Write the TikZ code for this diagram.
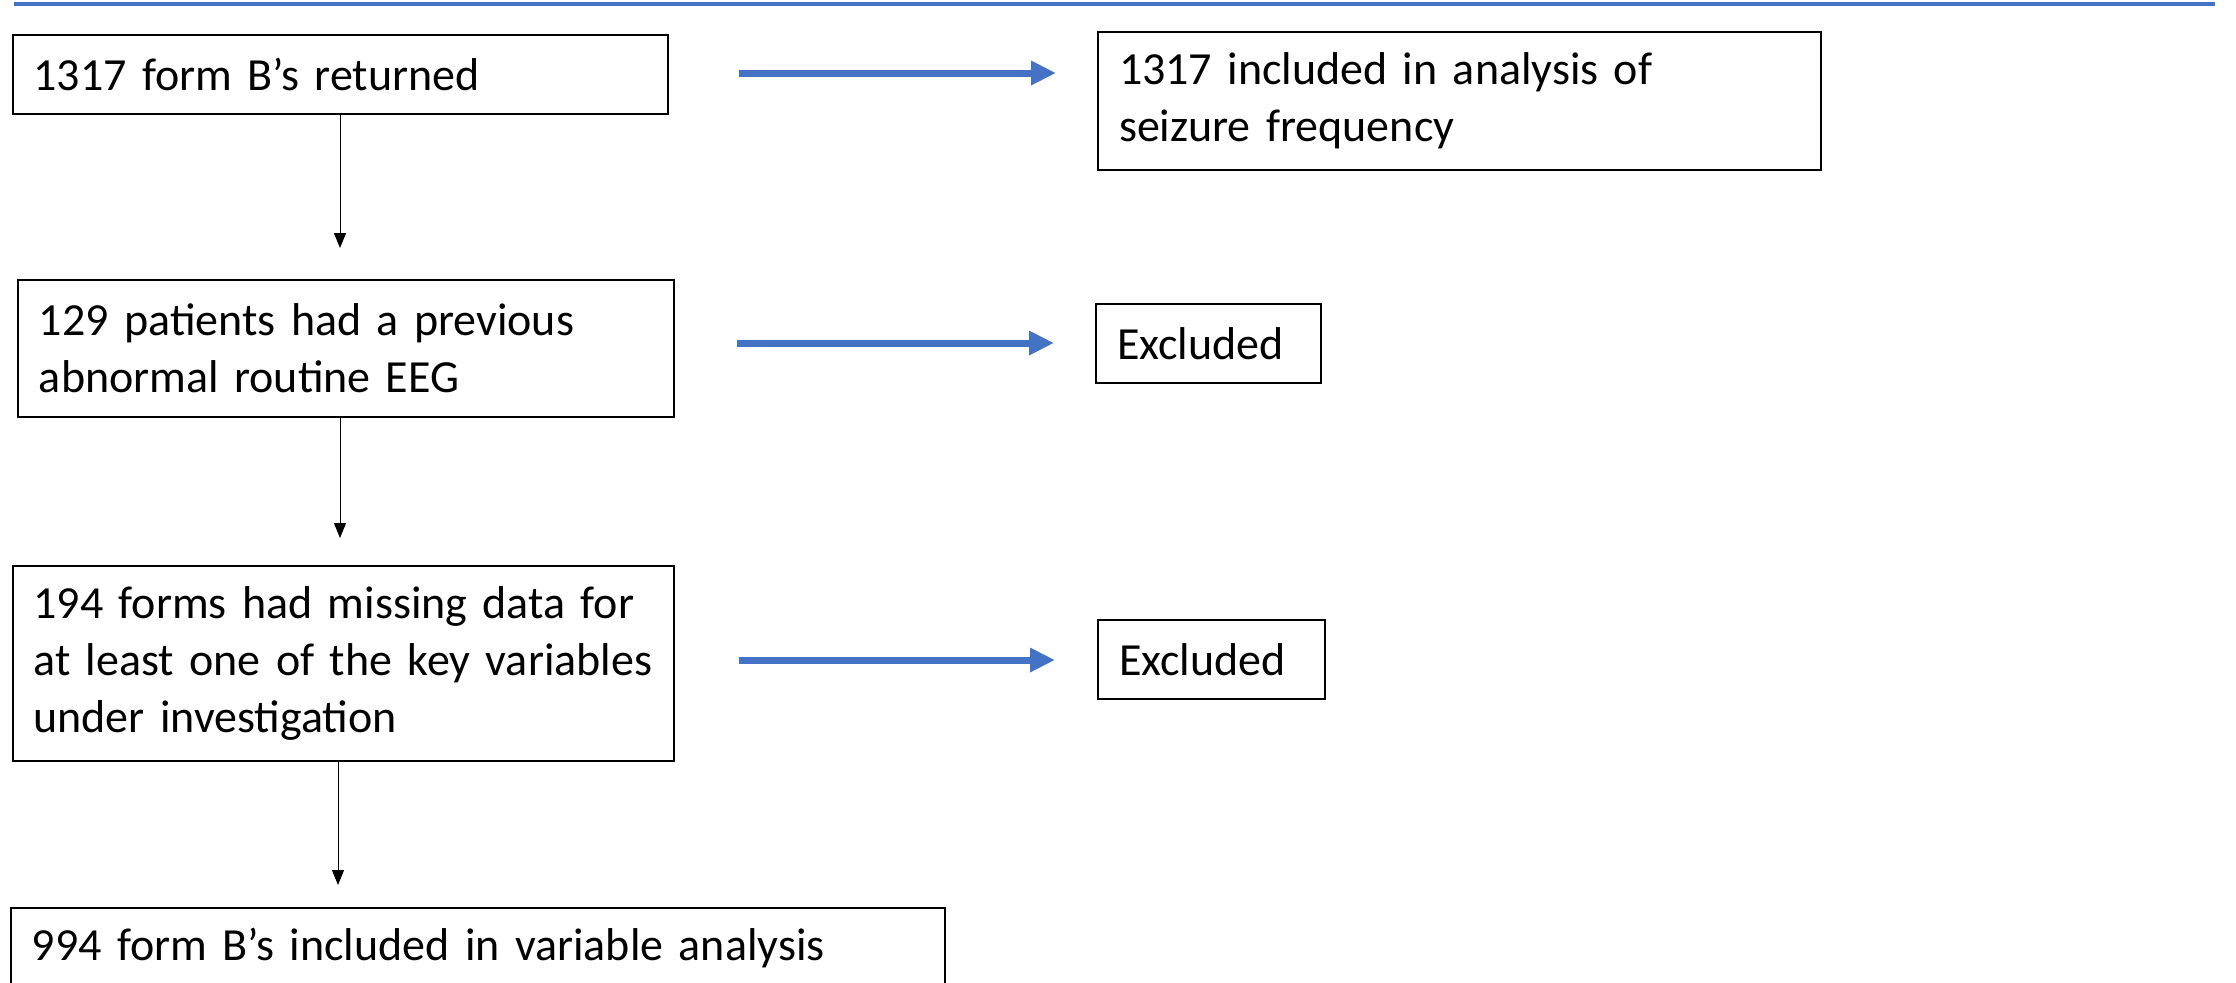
\documentclass[tikz,border=0pt]{standalone}
\usepackage{fontspec}
\setmainfont{Carlito}
\usetikzlibrary{arrows.meta}
\definecolor{blu}{HTML}{4472C4}
\begin{document}
\begin{tikzpicture}[x=0.5pt,y=-0.5pt,
  box/.style={draw=black, line width=1pt, inner xsep=10.5pt, inner ysep=0pt,
    align=left, font=\fontsize{23}{28.6}\selectfont},
  flow/.style={-{Triangle[length=7.5pt,width=6pt]}, line width=0.5pt},
  bluearrow/.style={blu, line width=3.5pt, -{Triangle[length=12.5pt,width=11.5pt]}}]
\clip (0,0) rectangle (2236,982);
\fill[white] (0,0) rectangle (2236,982);
% top rule
\draw[blu, line width=2pt] (14,4) -- (2215,4);
% boxes
\node[box, minimum width=327.5pt, minimum height=39.5pt, text width=306.5pt] (b1) at (340,74.5) {1317 form B’s returned};
\node[box, minimum width=361.5pt, minimum height=69pt, text width=340.5pt] (b2) at (1459.5,101) {1317 included in analysis of\\seizure frequency};
\node[box, minimum width=328pt, minimum height=68.5pt, text width=307pt] (b3) at (346,348.5) {129 patients had a previous\\abnormal routine EEG};
\node[box, minimum width=112.5pt, minimum height=39.5pt, text width=91.5pt] (e1) at (1208.5,343.5) {Excluded};
\node[box, minimum width=330.5pt, minimum height=97.5pt, text width=309.5pt] (b4) at (343,663.5) {194 forms had missing data for\\at least one of the key variables\\under investigation};
\node[box, minimum width=113.5pt, minimum height=39.5pt, text width=92.5pt] (e2) at (1211.5,659.5) {Excluded};
\node[box, minimum width=467pt, minimum height=40pt, text width=446pt] (b5) at (478,948) {994 form B’s included in variable analysis};
% vertical connectors
\coordinate (t1) at (340,248);
\coordinate (t2) at (340,538);
\coordinate (t3) at (338,885);
\draw[flow] (b1.south -| t1) -- (t1);
\draw[flow] (b3.south -| t2) -- (t2);
\draw[flow] (b4.south -| t3) -- (t3);
% blue arrows
\coordinate (a1s) at (739,73);
\coordinate (a1e) at (1056,73);
\coordinate (a2s) at (737,343);
\coordinate (a2e) at (1054,343);
\coordinate (a3s) at (739,660);
\coordinate (a3e) at (1055,660);
\draw[bluearrow] (a1s) -- (a1e);
\draw[bluearrow] (a2s) -- (a2e);
\draw[bluearrow] (a3s) -- (a3e);
\end{tikzpicture}
\end{document}
